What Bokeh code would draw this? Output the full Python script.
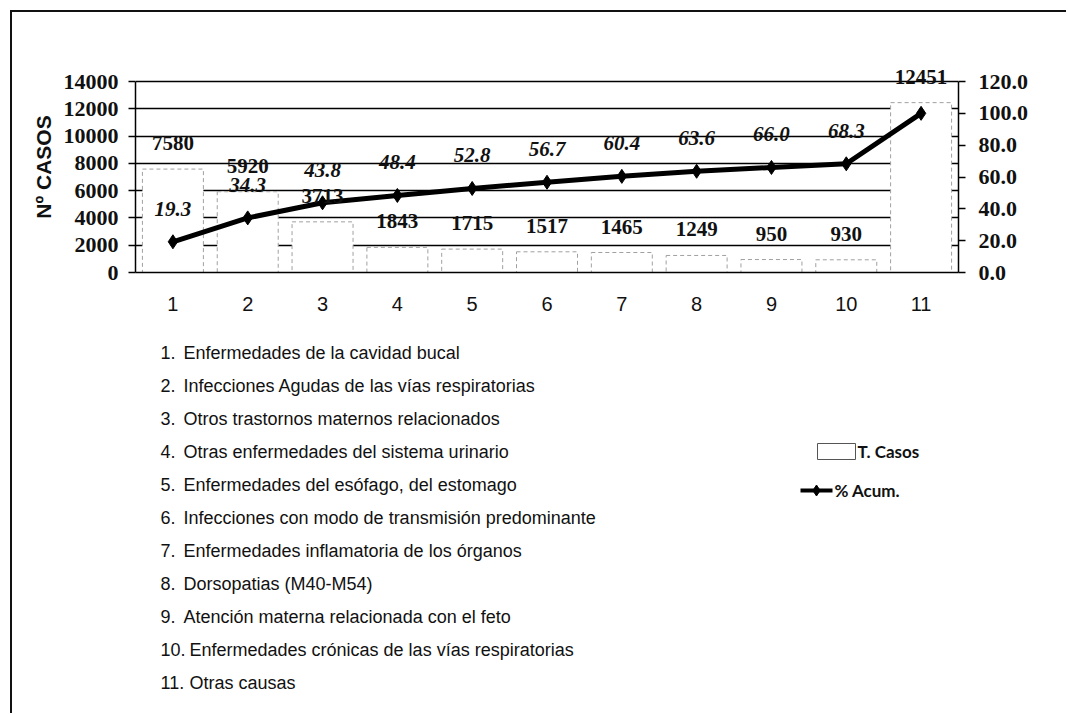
from bokeh.plotting import figure
from bokeh.layouts import column
from bokeh.models import (Range1d, LinearAxis, FixedTicker, PrintfTickFormatter,
                          ColumnDataSource, LabelSet)
from bokeh.core.properties import value
from bokeh.embed import file_html
from bokeh.resources import INLINE

# ---------------- data ----------------
categorias = ["1", "2", "3", "4", "5", "6", "7", "8", "9", "10", "11"]
casos = [7580, 5920, 3713, 1843, 1715, 1517, 1465, 1249, 950, 930, 12451]
pct_acum = [19.3, 34.3, 43.8, 48.4, 52.8, 56.7, 60.4, 63.6, 66.0, 68.3, 100.0]
pct_etiquetas = ["19.3", "34.3", "43.8", "48.4", "52.8", "56.7", "60.4", "63.6", "66.0", "68.3"]
descripciones = [
    "Enfermedades de la cavidad bucal",
    "Infecciones Agudas de las vías respiratorias",
    "Otros trastornos maternos relacionados",
    "Otras enfermedades del sistema urinario",
    "Enfermedades del esófago, del estomago",
    "Infecciones con modo de transmisión predominante",
    "Enfermedades inflamatoria de los órganos",
    "Dorsopatias (M40-M54)",
    "Atención materna relacionada con el feto",
    "Enfermedades crónicas de las vías respiratorias",
    "Otras causas",
]
y_ticks = [0, 2000, 4000, 6000, 8000, 10000, 12000, 14000]
pct_ticks = [0, 20, 40, 60, 80, 100, 120]

# ---------------- geometry (page pixels) ----------------
OX, OY = 12, 12                  # canvas origin on the page (margin + border)
W = 1054
FL, FR = 135, 958                # frame left/right on page
F_TOP, Y14, FB = 61, 81, 272     # frame top, 14000 line, x axis on page
SPLIT = 330                      # page y where the second panel starts
H1 = SPLIT - OY
H2 = 713 - SPLIT
YMAX, PMAX = 14000, 120
y_top = (FB - F_TOP) * YMAX / (FB - Y14)
p_top = (FB - F_TOP) * PMAX / (FB - Y14)
BL, BR = FL - OX, W - (FR - OX)  # left / right borders shared by both panels

SERIF = "Liberation Serif"
SANS = "Liberation Sans"
INK = "#111111"

p = figure(width=W, height=H1, x_range=Range1d(0.5, 11.5), y_range=Range1d(0, y_top),
           output_backend="svg", toolbar_location=None,
           min_border_left=BL, min_border_right=BR,
           min_border_top=F_TOP - OY, min_border_bottom=H1 - (FB - OY))
p.extra_y_ranges = {"pct": Range1d(0, p_top)}
p.background_fill_color = "white"
p.border_fill_color = "white"
p.outline_line_color = None

# grid
p.xgrid.visible = False
p.ygrid.ticker = FixedTicker(ticks=y_ticks)
p.ygrid.grid_line_color = "black"
p.ygrid.grid_line_width = 1.5

# x axis
xa = p.xaxis[0]
xa.ticker = FixedTicker(ticks=list(range(1, 12)))
xa.major_label_overrides = {i + 1: c for i, c in enumerate(categorias)}
xa.major_label_text_font = SANS
xa.major_label_text_font_size = "20px"
xa.major_label_text_color = INK
xa.major_tick_out = 0
xa.major_tick_in = 0
xa.minor_tick_out = 0
xa.minor_tick_in = 0
xa.major_label_standoff = 24
xa.axis_line_width = 1.5
xa.axis_line_color = "black"

# left axis
ya = p.yaxis[0]
ya.ticker = FixedTicker(ticks=y_ticks)
ya.bounds = (0, YMAX)
ya.major_label_text_font = SERIF
ya.major_label_text_font_style = "bold"
ya.major_label_text_font_size = "22px"
ya.major_label_text_color = INK
ya.major_tick_out = 7
ya.major_tick_in = 0
ya.minor_tick_out = 0
ya.minor_tick_in = 0
ya.major_tick_line_width = 1.5
ya.major_label_standoff = 10
ya.axis_line_width = 1.5
ya.axis_label = "Nº CASOS"
ya.axis_label_text_font = SANS
ya.axis_label_text_font_style = "bold"
ya.axis_label_text_font_size = "21px"
ya.axis_label_text_color = INK
ya.axis_label_standoff = 6

# right axis
ra = LinearAxis(y_range_name="pct", ticker=FixedTicker(ticks=pct_ticks),
                formatter=PrintfTickFormatter(format="%.1f"), bounds=(0, PMAX))
ra.major_label_text_font = SERIF
ra.major_label_text_font_style = "bold"
ra.major_label_text_font_size = "22px"
ra.major_label_text_color = INK
ra.major_tick_out = 7
ra.major_tick_in = 0
ra.minor_tick_out = 0
ra.minor_tick_in = 0
ra.major_tick_line_width = 1.5
ra.major_label_standoff = 13
ra.axis_line_width = 1.5
p.add_layout(ra, "right")

# ---------------- glyphs ----------------
xs = list(range(1, len(categorias) + 1))
src = ColumnDataSource(dict(x=xs, casos=casos, pct=pct_acum,
                            lab=[str(v) for v in casos]))
p.vbar(x="x", top="casos", width=0.815, source=src,
       fill_color="white", line_color="#a0a0a0", line_dash="4 3", line_width=1)
p.line(x="x", y="pct", source=src, y_range_name="pct", line_color="black", line_width=5)
p.scatter(x="x", y="pct", source=src, y_range_name="pct", marker="diamond",
          size=14, fill_color="black", line_color="black")

p.add_layout(LabelSet(x="x", y="casos", text="lab", source=src, y_offset=26,
                      text_align="center", text_baseline="middle",
                      text_font=SERIF, text_font_style="bold",
                      text_font_size="21px", text_color=INK))
psrc = ColumnDataSource(dict(x=xs[:len(pct_etiquetas)], pct=pct_acum[:len(pct_etiquetas)],
                             lab=pct_etiquetas))
p.add_layout(LabelSet(x="x", y="pct", text="lab", source=psrc, y_range_name="pct",
                      y_offset=33, text_align="center", text_baseline="middle",
                      text_font=SERIF, text_font_style="bold italic",
                      text_font_size="21px", text_color=INK))

# ---------------- lower panel: category list + legend (page-pixel coordinates) ----------------
q = figure(width=W, height=H2, x_range=Range1d(FL, FR), y_range=Range1d(SPLIT + H2, SPLIT),
           output_backend="svg", toolbar_location=None, x_axis_type=None, y_axis_type=None,
           min_border_left=BL, min_border_right=BR, min_border_top=0, min_border_bottom=0)
q.outline_line_color = None
q.background_fill_color = "white"
q.border_fill_color = "white"

LIST_Y0, LIST_DY = 352, 33
nums, num_y, txts, txt_x, txt_y = [], [], [], [], []
for i, d in enumerate(descripciones):
    py = LIST_Y0 + LIST_DY * i
    nums.append(f"{i + 1}.")
    num_y.append(py)
    txts.append(d)
    txt_x.append(183 if i < 9 else 189)
    txt_y.append(py)
q.text(x=[160] * len(nums), y=num_y, text=nums, text_font=value(SANS), text_font_size="18px",
       text_color=INK, text_baseline="middle", text_align="left")
q.text(x=txt_x, y=txt_y, text=txts, text_font=value(SANS), text_font_size="18px",
       text_color=INK, text_baseline="middle", text_align="left")

# legend swatches
q.quad(left=[817], right=[855], top=[443], bottom=[459],
       fill_color="white", line_color="#555555", line_width=1)
q.line(x=[800, 832], y=[490, 490], line_color="black", line_width=4)
q.scatter(x=[816], y=[490], marker="diamond", size=11,
          fill_color="black", line_color="black")
q.text(x=[857, 834], y=[451, 490], text=["T. Casos", "% Acum."],
       text_font=value("Lato"), text_font_style="bold", text_font_size="17px",
       text_color=INK, text_baseline="middle", text_align="left")

layout = column(p, q, spacing=0,
                styles={"margin-left": "10px", "margin-top": "10px",
                        "border-left": "2px solid #111", "border-top": "2px solid #111"})

open("out.html", "w").write(file_html(layout, INLINE))
